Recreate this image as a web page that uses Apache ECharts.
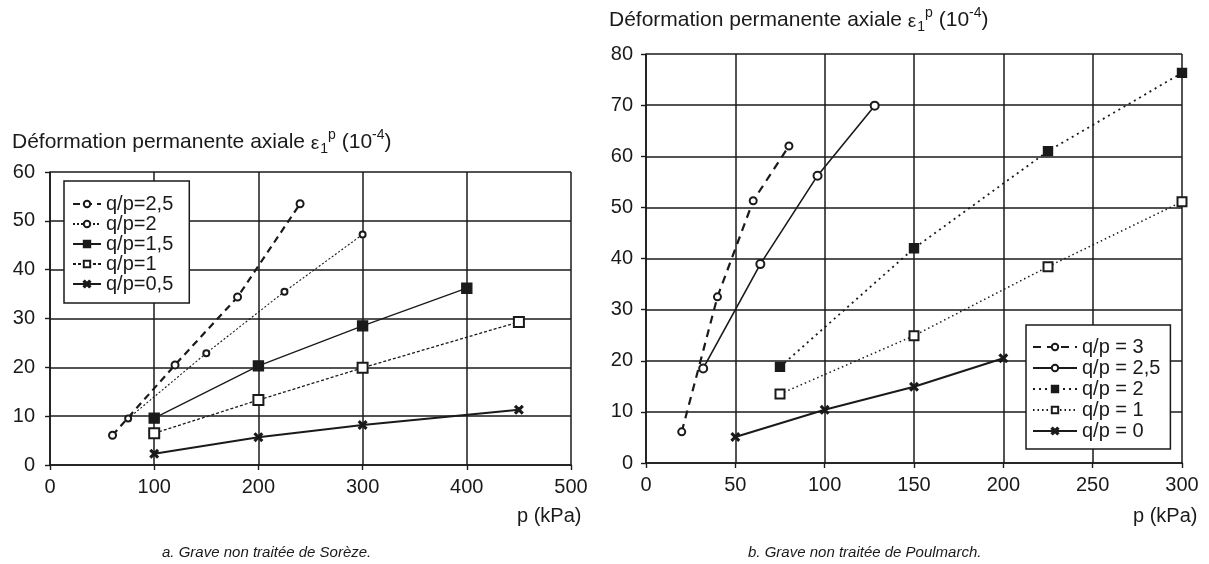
<!DOCTYPE html>
<html>
<head>
<meta charset="utf-8">
<title>Déformation permanente axiale</title>
<script src="https://cdn.jsdelivr.net/npm/echarts@6/dist/echarts.min.js"></script>
<style>
  html, body { margin: 0; padding: 0; background: #fff; }
  #chart { width: 1209px; height: 564px; }
</style>
</head>
<body>
<div id="chart"></div>
<script>
// a. Grave non traitee de Soreze : p (kPa) / eps1p (1e-4)
const sorP25 = [60, 120, 180, 240]
const sorE25 = [6.1, 20.5, 34.4, 53.5]
const sorP2 = [75, 150, 225, 300]
const sorE2 = [9.5, 22.9, 35.5, 47.2]
const sorP15 = [100, 200, 300, 400]
const sorE15 = [9.6, 20.3, 28.5, 36.2]
const sorP1 = [100, 200, 300, 450]
const sorE1 = [6.5, 13.3, 19.9, 29.3]
const sorP05 = [100, 200, 300, 450]
const sorE05 = [2.3, 5.7, 8.2, 11.3]

// b. Grave non traitee de Poulmarch
const pouP3 = [20, 40, 60, 80]
const pouE3 = [6.1, 32.5, 51.3, 62]
const pouP25 = [32, 64, 96, 128]
const pouE25 = [18.5, 38.9, 56.2, 69.9]
const pouP2 = [75, 150, 225, 300]
const pouE2 = [18.8, 42, 61, 76.3]
const pouP1 = [75, 150, 225, 300]
const pouE1 = [13.5, 24.9, 38.4, 51.1]
const pouP0 = [50, 100, 150, 200]
const pouE0 = [5.1, 10.4, 14.9, 20.5]

const sorNames = ['q/p=2,5', 'q/p=2', 'q/p=1,5', 'q/p=1', 'q/p=0,5']
const pouNames = ['q/p = 3', 'q/p = 2,5', 'q/p = 2', 'q/p = 1', 'q/p = 0']

const INK = '#1a1a1a'
const FONT = '"Liberation Sans", Arial, sans-serif'
const CROSS = 'path://M0,1.5L1.5,0L5,3.5L8.5,0L10,1.5L6.5,5L10,8.5L8.5,10L5,6.5L1.5,10L0,8.5L3.5,5Z'

function zip(xs, ys) {
  return xs.map(function (x, i) { return [x, ys[i]] })
}

function serie(name, idx, xs, ys, line, symbol, size) {
  return {
    name: name,
    type: 'line',
    xAxisIndex: idx,
    yAxisIndex: idx,
    data: zip(xs, ys),
    symbol: symbol,
    symbolSize: size,
    showAllSymbol: true,
    animation: false,
    lineStyle: Object.assign({ color: INK }, line),
    itemStyle: { color: INK, borderColor: INK, borderWidth: 1.4 },
    emphasis: { disabled: true },
    z: 5
  }
}

function valueAxis(idx, min, max, interval) {
  return {
    type: 'value',
    gridIndex: idx,
    min: min,
    max: max,
    interval: interval,
    axisLine: { show: true, lineStyle: { color: INK, width: 1.6 } },
    axisTick: { show: true, length: 5, lineStyle: { color: INK, width: 1.4 } },
    splitLine: { show: true, lineStyle: { color: INK, width: 1.5 } },
    axisLabel: { color: INK, fontFamily: FONT, fontSize: 20, margin: 12 }
  }
}

// titre d'axe avec indice / exposant
function yTitle(x, y) {
  return {
    type: 'text',
    left: x,
    top: y,
    style: {
      text: '{t|Déformation permanente axiale }{e|ε}{sub|1}{sup|p}{t| (10}{sup|-4}{t|)}',
      rich: {
        t: { fontSize: 21, fontFamily: FONT, fill: INK, lineHeight: 27, verticalAlign: 'bottom' },
        e: { fontSize: 19, fontFamily: FONT, fill: INK, lineHeight: 27, verticalAlign: 'bottom' },
        sub: { fontSize: 14, fontFamily: FONT, fill: INK, lineHeight: 27, verticalAlign: 'bottom', padding: [0, 0, -3, 1] },
        sup: { fontSize: 14, fontFamily: FONT, fill: INK, lineHeight: 27, verticalAlign: 'top', padding: [2, 0, 0, 0] }
      }
    }
  }
}

function plainText(x, y, txt, size, italic) {
  return {
    type: 'text',
    left: x,
    top: y,
    style: {
      text: txt,
      fill: INK,
      font: (italic ? 'italic ' : '') + size + 'px ' + FONT
    }
  }
}

const chart = echarts.init(document.getElementById('chart'))

const yL = valueAxis(0, 0, 60, 10)
const yR = valueAxis(1, 0, 80, 10)
yL.axisLabel.margin = 15
yR.axisLabel.margin = 13

chart.setOption({
  backgroundColor: '#fff',
  animation: false,
  grid: [
    { left: 50, top: 172, width: 521, height: 293 },
    { left: 646, top: 54, width: 536, height: 409 }
  ],
  xAxis: [valueAxis(0, 0, 500, 100), valueAxis(1, 0, 300, 50)],
  yAxis: [yL, yR],
  legend: [
    {
      data: sorNames,
      left: 64,
      top: 181,
      orient: 'vertical',
      itemWidth: 28,
      itemHeight: 8,
      itemGap: 0,
      padding: [13, 16, 9, 8],
      backgroundColor: '#fff',
      borderColor: INK,
      borderWidth: 1.5,
      selectedMode: false,
      textStyle: { color: INK, fontFamily: FONT, fontSize: 20, lineHeight: 20 }
    },
    {
      data: pouNames,
      left: 1026,
      top: 325,
      orient: 'vertical',
      itemWidth: 44,
      itemHeight: 8,
      itemGap: 1,
      padding: [12, 10, 8, 6],
      backgroundColor: '#fff',
      borderColor: INK,
      borderWidth: 1.5,
      selectedMode: false,
      textStyle: { color: INK, fontFamily: FONT, fontSize: 20, lineHeight: 20 }
    }
  ],
  series: [
    serie(sorNames[0], 0, sorP25, sorE25, { width: 2.2, type: [7, 5] }, 'emptyCircle', 7),
    serie(sorNames[1], 0, sorP2, sorE2, { width: 1.1, type: [2, 2] }, 'emptyCircle', 6),
    serie(sorNames[2], 0, sorP15, sorE15, { width: 1.3, type: 'solid' }, 'rect', 10),
    serie(sorNames[3], 0, sorP1, sorE1, { width: 1.3, type: [3, 2] }, 'emptyRect', 10),
    serie(sorNames[4], 0, sorP05, sorE05, { width: 2, type: 'solid' }, CROSS, 8),

    serie(pouNames[0], 1, pouP3, pouE3, { width: 2.2, type: [8, 6] }, 'emptyCircle', 7),
    serie(pouNames[1], 1, pouP25, pouE25, { width: 1.6, type: 'solid' }, 'emptyCircle', 8),
    serie(pouNames[2], 1, pouP2, pouE2, { width: 1.8, type: [2, 4] }, 'rect', 9),
    serie(pouNames[3], 1, pouP1, pouE1, { width: 1.5, type: [1.5, 3] }, 'emptyRect', 9),
    serie(pouNames[4], 1, pouP0, pouE0, { width: 2, type: 'solid' }, CROSS, 8)
  ],
  graphic: [
    yTitle(12, 126),
    yTitle(609, 4),
    plainText(517, 506, 'p (kPa)', 20, false),
    plainText(1133, 506, 'p (kPa)', 20, false),
    plainText(162, 545, 'a. Grave non traitée de Sorèze.', 15, true),
    plainText(748, 545, 'b. Grave non traitée de Poulmarch.', 15, true)
  ]
})
</script>
</body>
</html>
